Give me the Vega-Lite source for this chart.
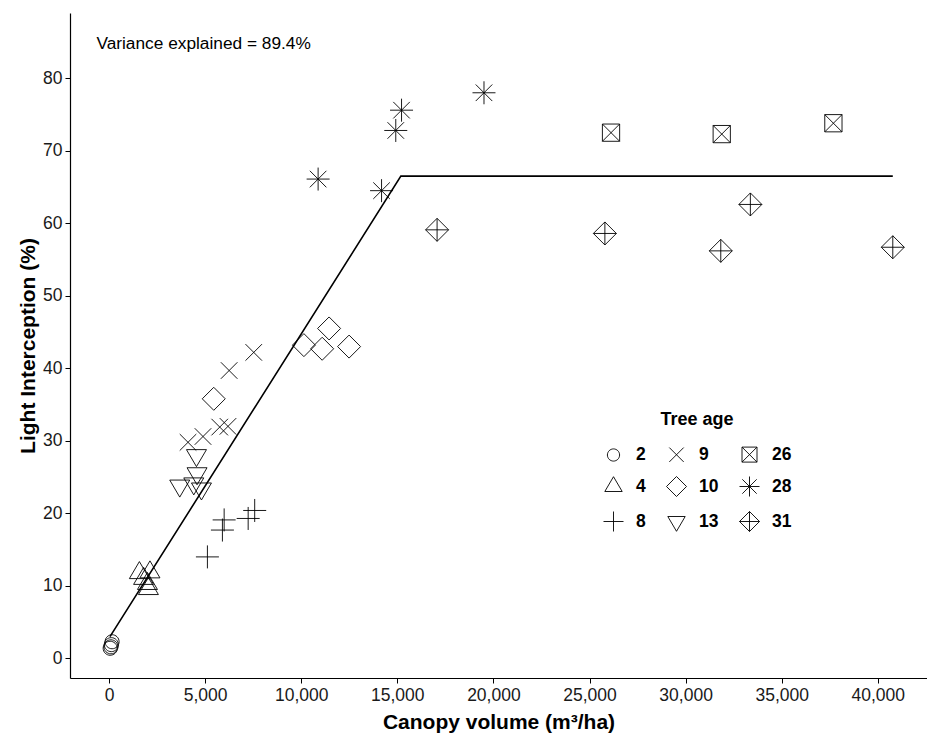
{
  "$schema": "https://vega.github.io/schema/vega-lite/v6.json",
  "autosize": "none",
  "width": 857,
  "height": 665,
  "padding": {"left": 70, "top": 13, "right": 0, "bottom": 64},
  "config": {
    "font": "Liberation Sans",
    "view": {"stroke": null},
    "axis": {
      "grid": false,
      "domainColor": "#000000",
      "domainWidth": 1.2,
      "tickColor": "#000000",
      "tickWidth": 1,
      "tickSize": 5,
      "labelFontSize": 17.5,
      "labelColor": "#1a1a1a",
      "labelPadding": 3,
      "titleFontSize": 21,
      "titleFontWeight": "bold",
      "titleColor": "#000000"
    }
  },
  "datasets": {
    "points": [
      {"canopy": 60, "li": 1.4, "age": 2},
      {"canopy": 120, "li": 1.9, "age": 2},
      {"canopy": 160, "li": 2.3, "age": 2},
      {"canopy": 100, "li": 1.6, "age": 2},
      {"canopy": 1580, "li": 11.8, "age": 4},
      {"canopy": 2130, "li": 11.9, "age": 4},
      {"canopy": 1800, "li": 11.0, "age": 4},
      {"canopy": 2000, "li": 10.3, "age": 4},
      {"canopy": 2050, "li": 9.6, "age": 4},
      {"canopy": 5120, "li": 14.0, "age": 8},
      {"canopy": 5900, "li": 17.7, "age": 8},
      {"canopy": 5990, "li": 19.1, "age": 8},
      {"canopy": 7240, "li": 19.3, "age": 8},
      {"canopy": 7580, "li": 20.4, "age": 8},
      {"canopy": 4110, "li": 29.8, "age": 9},
      {"canopy": 4890, "li": 30.6, "age": 9},
      {"canopy": 5760, "li": 31.9, "age": 9},
      {"canopy": 6190, "li": 32.0, "age": 9},
      {"canopy": 6250, "li": 39.7, "age": 9},
      {"canopy": 7530, "li": 42.2, "age": 9},
      {"canopy": 5450, "li": 35.8, "age": 10},
      {"canopy": 10140, "li": 43.2, "age": 10},
      {"canopy": 11090, "li": 42.7, "age": 10},
      {"canopy": 11450, "li": 45.5, "age": 10},
      {"canopy": 12490, "li": 43.0, "age": 10},
      {"canopy": 3680, "li": 23.8, "age": 13},
      {"canopy": 4550, "li": 28.0, "age": 13},
      {"canopy": 4580, "li": 25.5, "age": 13},
      {"canopy": 4410, "li": 24.1, "age": 13},
      {"canopy": 4810, "li": 23.4, "age": 13},
      {"canopy": 26120, "li": 72.5, "age": 26},
      {"canopy": 31880, "li": 72.3, "age": 26},
      {"canopy": 37690, "li": 73.8, "age": 26},
      {"canopy": 10880, "li": 66.1, "age": 28},
      {"canopy": 14180, "li": 64.5, "age": 28},
      {"canopy": 14920, "li": 72.8, "age": 28},
      {"canopy": 15220, "li": 75.6, "age": 28},
      {"canopy": 19510, "li": 78.0, "age": 28},
      {"canopy": 17070, "li": 59.1, "age": 31},
      {"canopy": 25800, "li": 58.6, "age": 31},
      {"canopy": 31830, "li": 56.2, "age": 31},
      {"canopy": 33370, "li": 62.6, "age": 31},
      {"canopy": 40780, "li": 56.7, "age": 31}
    ],
    "fit": [
      {"canopy": 50, "li": 3.0},
      {"canopy": 15185, "li": 66.5},
      {"canopy": 40780, "li": 66.5}
    ],
    "note": [
      {"canopy": -656, "li": 84.7, "label": "Variance explained = 89.4%"}
    ]
  },
  "layer": [
    {
      "data": {"name": "fit"},
      "mark": {"type": "line", "color": "#000000", "strokeWidth": 1.6},
      "encoding": {
        "x": {
          "field": "canopy",
          "type": "quantitative",
          "title": "Canopy volume (m³/ha)",
          "scale": {"domain": [-2030, 42560], "nice": false, "zero": false},
          "axis": {"values": [0, 5000, 10000, 15000, 20000, 25000, 30000, 35000, 40000], "format": ",.0f", "titlePadding": 8}
        },
        "y": {
          "field": "li",
          "type": "quantitative",
          "title": "Light Interception (%)",
          "scale": {"domain": [-2.7, 89], "nice": false, "zero": false},
          "axis": {"values": [0, 10, 20, 30, 40, 50, 60, 70, 80], "titlePadding": 4}
        }
      }
    },
    {
      "data": {"name": "points"},
      "mark": {"type": "point", "filled": false, "color": "#000000", "strokeWidth": 0.9, "size": 529, "opacity": 1},
      "encoding": {
        "x": {"field": "canopy", "type": "quantitative"},
        "y": {"field": "li", "type": "quantitative"},
        "shape": {
          "field": "age",
          "type": "nominal",
          "scale": {
            "domain": [2, 4, 8, 9, 10, 13, 26, 28, 31],
            "range": [
              "M0.61,0A0.61,0.61,0,1,1,-0.61,0A0.61,0.61,0,1,1,0.61,0Z",
              "M0,-0.98L0.87,0.5L-0.87,0.5Z",
              "M-1,0H1M0,-1V1",
              "M-0.72,-0.72L0.72,0.72M-0.72,0.72L0.72,-0.72",
              "M0,-1L1,0L0,1L-1,0Z",
              "M0,0.98L0.87,-0.5L-0.87,-0.5Z",
              "M-0.75,-0.75H0.75V0.75H-0.75ZM-0.75,-0.75L0.75,0.75M-0.75,0.75L0.75,-0.75",
              "M-1,0H1M0,-1V1M-0.72,-0.72L0.72,0.72M-0.72,0.72L0.72,-0.72",
              "M0,-1L1,0L0,1L-1,0ZM-1,0H1M0,-1V1"
            ]
          },
          "legend": {
            "title": "Tree age",
            "orient": "none",
            "legendX": 533,
            "legendY": 398,
            "columns": 3,
            "columnPadding": 18,
            "rowPadding": 10,
            "symbolSize": 400,
            "symbolStrokeWidth": 0.9,
            "labelOffset": 12,
            "labelFontSize": 17.5,
            "labelFontWeight": "bold",
            "labelColor": "#000000",
            "titleFontSize": 18,
            "titleFontWeight": "bold",
            "titleColor": "#000000",
            "titleAnchor": "middle",
            "titlePadding": 15
          }
        }
      }
    },
    {
      "data": {"name": "note"},
      "mark": {"type": "text", "align": "left", "baseline": "middle", "fontSize": 17.3, "color": "#000000"},
      "encoding": {
        "x": {"field": "canopy", "type": "quantitative"},
        "y": {"field": "li", "type": "quantitative"},
        "text": {"field": "label", "type": "nominal"}
      }
    }
  ]
}
